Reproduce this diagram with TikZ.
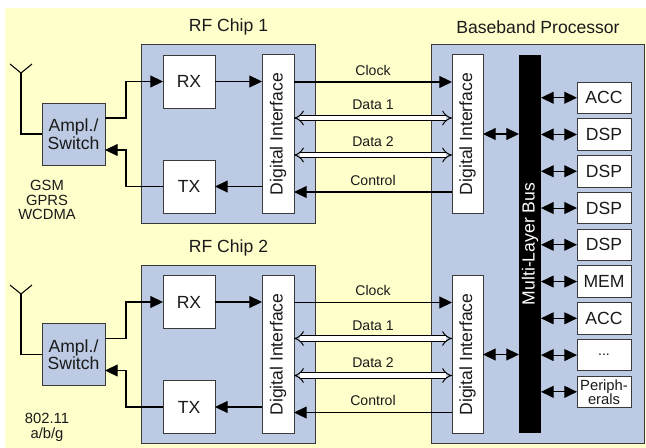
\documentclass[tikz,border=0pt]{standalone}
\usepackage{fontspec}
\setsansfont{Liberation Sans}
\usetikzlibrary{positioning, arrows.meta}
\definecolor{clrbackground}{HTML}{FFFFCC}
\definecolor{clrchip}{HTML}{BCCBE3}
\definecolor{clrborder}{HTML}{3A3A3A}
\definecolor{clrbus}{HTML}{000000}
\definecolor{clrtext}{HTML}{1A1A1A}

\begin{document}
\begin{tikzpicture}[
    x=0.025cm, y=-0.025cm,
    every node/.style={font=\sffamily},
    chip/.style={draw=clrborder, fill=clrchip, line width=0.7pt, inner sep=0, outer sep=0},
    block/.style={draw=clrborder, fill=white, line width=0.7pt, inner sep=0, outer sep=0,
                  font=\sffamily\fontsize{12.5}{12.5}\selectfont, text=clrtext, align=center},
    title/.style={font=\sffamily\fontsize{12.5}{14}\selectfont, text=clrtext},
    label/.style={font=\sffamily\fontsize{10}{11}\selectfont, text=clrtext, above=1pt},
    bands/.style={font=\sffamily\fontsize{10.5}{10.6}\selectfont, text=clrtext, align=center},
    vtext/.style={rotate=90, font=\sffamily\fontsize{12.5}{14}\selectfont, text=clrtext},
    wire/.style={line width=0.75pt, draw=black},
    arrow/.style={-{Triangle[length=9pt, width=8.5pt]}, line width=0.75pt, draw=black},
    biarrow/.style={{Triangle[length=9pt, width=8.5pt]}-{Triangle[length=9pt, width=8.5pt]}, line width=0.75pt, draw=black},
    dataarrow/.style={{Implies[scale=1.3]}-{Implies[scale=1.3]}, double=white, double distance=3pt, line width=0.7pt, draw=black},
]
\useasboundingbox (0,0) rectangle (646,448);
\fill[clrbackground] (5,8) rectangle (646,448);
% containers
\node[chip, minimum width=4.325cm, minimum height=4.45cm] (g_0) at (228.5,134) {};
\node[title] (g_0_title) at (228.5,27) {RF Chip 1};
\node[chip, minimum width=4.325cm, minimum height=4.425cm] (g_1) at (228.5,354.5) {};
\node[title] (g_1_title) at (228.5,248) {RF Chip 2};
\node[chip, minimum width=5.3cm, minimum height=9.95cm] (g_2) at (538,244) {};
\node[title] (g_2_title) at (538,27) {Baseband Processor};
% RF chip 1
\node[chip, minimum width=1.575cm, minimum height=1.55cm, font=\sffamily\fontsize{12.5}{12.4}\selectfont, text=clrtext, align=center] (n_1) at (73.5,134) {Ampl./\\Switch};
\node[bands] (n_1_bands) at (47,200) {GSM\\GPRS\\WCDMA};
\node[block, minimum width=1.3cm, minimum height=1.325cm] (n_2) at (189,81.5) {RX};
\node[block, minimum width=1.3cm, minimum height=1.325cm] (n_3) at (189,186.5) {TX};
\node[block, minimum width=0.8cm, minimum height=3.95cm] (n_4) at (278,134) {};
\node[vtext] (n_4_text) at (n_4) {Digital Interface};
\node[block, minimum width=0.775cm, minimum height=3.95cm] (n_5) at (467.5,134) {};
\node[vtext] (n_5_text) at (n_5) {Digital Interface};
% RF chip 2
\node[chip, minimum width=1.575cm, minimum height=1.55cm, font=\sffamily\fontsize{12.5}{12.4}\selectfont, text=clrtext, align=center] (n_6) at (73.5,354.5) {Ampl./\\Switch};
\node[bands] (n_6_bands) at (47,427.5) {802.11\\a/b/g};
\node[block, minimum width=1.3cm, minimum height=1.325cm] (n_7) at (189,302) {RX};
\node[block, minimum width=1.3cm, minimum height=1.325cm] (n_8) at (189,407) {TX};
\node[block, minimum width=0.8cm, minimum height=3.95cm] (n_9) at (278,354.5) {};
\node[vtext] (n_9_text) at (n_9) {Digital Interface};
\node[block, minimum width=0.775cm, minimum height=3.95cm] (n_10) at (467.5,354.5) {};
\node[vtext] (n_10_text) at (n_10) {Digital Interface};
% bus and cores
\node[fill=clrbus, inner sep=0, outer sep=0, minimum width=0.55cm, minimum height=9.45cm] (n_11) at (530,244) {};
\node[vtext, text=white] (n_11_text) at (n_11) {Multi-Layer Bus};
\node[block, minimum width=1.35cm, minimum height=0.7875cm] (n_12) at (604,97.75) {ACC};
\node[block, minimum width=1.35cm, minimum height=0.7875cm, below=0.13125cm of n_12] (n_13) {DSP};
\node[block, minimum width=1.35cm, minimum height=0.7875cm, below=0.13125cm of n_13] (n_14) {DSP};
\node[block, minimum width=1.35cm, minimum height=0.7875cm, below=0.13125cm of n_14] (n_15) {DSP};
\node[block, minimum width=1.35cm, minimum height=0.7875cm, below=0.13125cm of n_15] (n_16) {DSP};
\node[block, minimum width=1.35cm, minimum height=0.7875cm, below=0.13125cm of n_16] (n_17) {MEM};
\node[block, minimum width=1.35cm, minimum height=0.7875cm, below=0.13125cm of n_17] (n_18) {ACC};
\node[block, minimum width=1.35cm, minimum height=0.7875cm, below=0.13125cm of n_18, font=\sffamily\fontsize{10}{10}\selectfont] (n_19) {...};
\node[block, minimum width=1.35cm, minimum height=0.7875cm, below=0.13125cm of n_19, font=\sffamily\fontsize{10.5}{10}\selectfont] (n_20) {Periph-\\erals};
% antennas
\coordinate (a_1) at (21,73);
\draw[wire] (a_1) -- ++(-11,-9);
\draw[wire] (a_1) -- ++(11,-9);
\draw[wire] (a_1) |- (n_1.west);
\coordinate (a_2) at (21,294);
\draw[wire] (a_2) -- ++(-11,-9);
\draw[wire] (a_2) -- ++(11,-9);
\draw[wire] (a_2) |- (n_6.west);
% RF chip 1 links
\draw[arrow] ([yshift=0.4cm]n_1.east) -- ++(21,0) |- (n_2.west);
\draw[arrow] (n_3.west) -- ++(-37,0) |- ([yshift=-0.4cm]n_1.east);
\draw[arrow] (n_2.east) -- (n_2.east -| n_4.west);
\draw[arrow] (n_4.west |- n_3.east) -- (n_3.east);
\draw[arrow] ([yshift=1.3cm]n_4.east) -- node[label] {Clock} ([yshift=1.3cm]n_5.west);
\draw[dataarrow] ([yshift=0.4cm]n_4.east) -- node[label, above=2pt] {Data 1} ([yshift=0.4cm]n_5.west);
\draw[dataarrow] ([yshift=-0.525cm]n_4.east) -- node[label, above=2pt] {Data 2} ([yshift=-0.525cm]n_5.west);
\draw[arrow] ([yshift=-1.45cm]n_5.west) -- node[label] {Control} ([yshift=-1.45cm]n_4.east);
% RF chip 2 links
\draw[arrow] ([yshift=0.4cm]n_6.east) -- ++(21,0) |- (n_7.west);
\draw[arrow] (n_8.west) -- ++(-37,0) |- ([yshift=-0.4cm]n_6.east);
\draw[arrow] (n_7.east) -- (n_7.east -| n_9.west);
\draw[arrow] (n_9.west |- n_8.east) -- (n_8.east);
\draw[arrow] ([yshift=1.3cm]n_9.east) -- node[label] {Clock} ([yshift=1.3cm]n_10.west);
\draw[dataarrow] ([yshift=0.4cm]n_9.east) -- node[label, above=2pt] {Data 1} ([yshift=0.4cm]n_10.west);
\draw[dataarrow] ([yshift=-0.525cm]n_9.east) -- node[label, above=2pt] {Data 2} ([yshift=-0.525cm]n_10.west);
\draw[arrow] ([yshift=-1.45cm]n_10.west) -- node[label] {Control} ([yshift=-1.45cm]n_9.east);
% bus links
\draw[biarrow] (n_5.east) -- (n_5.east -| n_11.west);
\draw[biarrow] (n_10.east) -- (n_10.east -| n_11.west);
\draw[biarrow] (n_12.west -| n_11.east) -- (n_12.west);
\draw[biarrow] (n_13.west -| n_11.east) -- (n_13.west);
\draw[biarrow] (n_14.west -| n_11.east) -- (n_14.west);
\draw[biarrow] (n_15.west -| n_11.east) -- (n_15.west);
\draw[biarrow] (n_16.west -| n_11.east) -- (n_16.west);
\draw[biarrow] (n_17.west -| n_11.east) -- (n_17.west);
\draw[biarrow] (n_18.west -| n_11.east) -- (n_18.west);
\draw[biarrow] (n_19.west -| n_11.east) -- (n_19.west);
\draw[biarrow] (n_20.west -| n_11.east) -- (n_20.west);
\end{tikzpicture}
\end{document}
